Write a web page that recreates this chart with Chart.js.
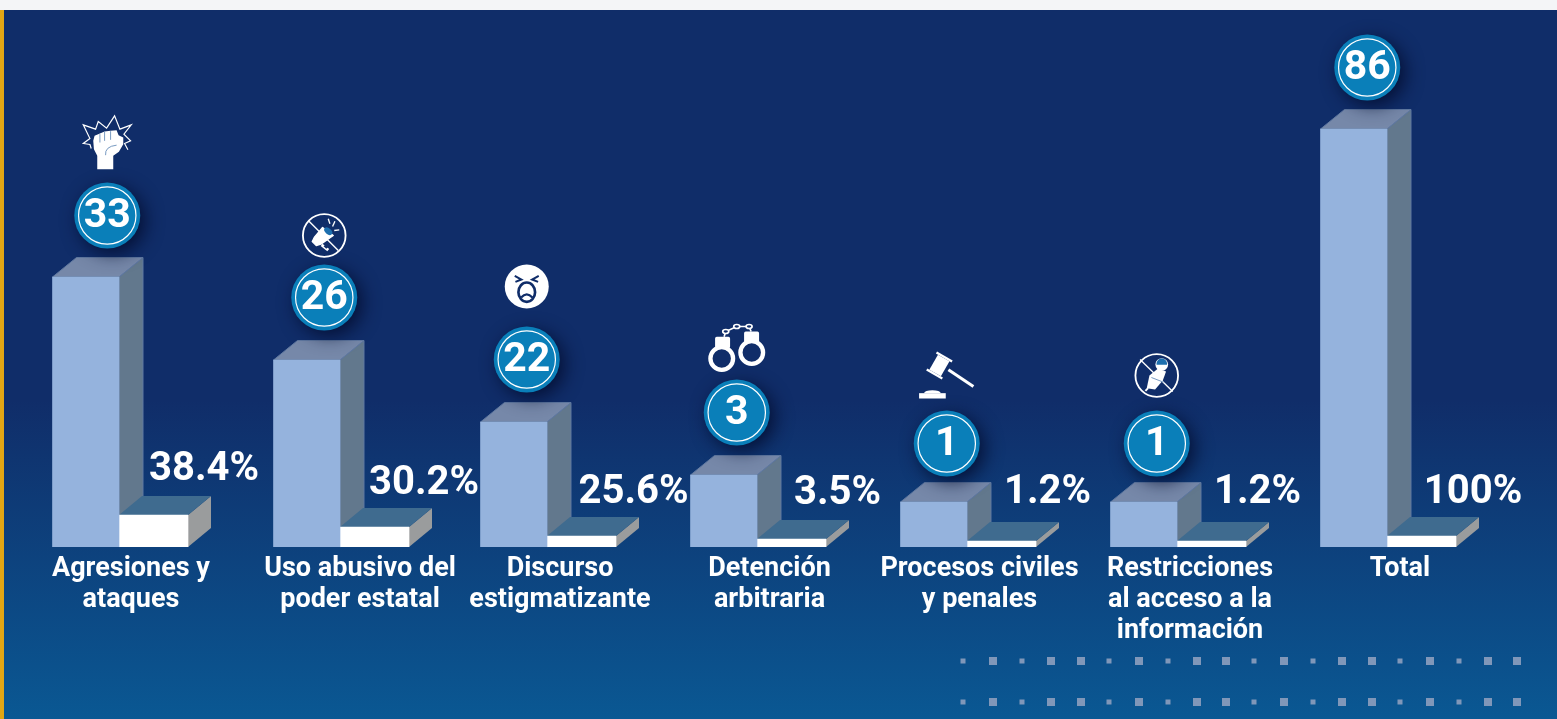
<!DOCTYPE html>
<html>
<head>
<meta charset="utf-8">
<title>Agresiones</title>
<script src="https://cdn.jsdelivr.net/npm/chart.js@4"></script>
<style>
  html, body { margin: 0; padding: 0; width: 1557px; height: 719px; overflow: hidden; }
  body { background: linear-gradient(180deg, #102d69 0px, #102d69 400px, #0a5893 719px); }
  #strip { position: absolute; left: 0; top: 0; width: 1557px; height: 10px; background: #f4f5f7; }
  #edge { position: absolute; left: 0; top: 10px; width: 4px; height: 709px; background: #e2a614; }
  #wrap { position: absolute; left: 0; top: 0; width: 1557px; height: 719px; }
</style>
</head>
<body>
<div id="strip"></div>
<div id="edge"></div>
<div id="wrap"><canvas id="myChart" width="1557" height="719"></canvas></div>
<script>
const categories = [
  ['Agresiones y', 'ataques'],
  ['Uso abusivo del', 'poder estatal'],
  ['Discurso', 'estigmatizante'],
  ['Detención', 'arbitraria'],
  ['Procesos civiles', 'y penales'],
  ['Restricciones', 'al acceso a la', 'información'],
  ['Total']
];
const countLabels = ['33', '26', '22', '3', '1', '1', '86'];
const percentLabels = ['38.4%', '30.2%', '25.6%', '3.5%', '1.2%', '1.2%', '100%'];

// the source graphic does not draw its bars in proportion to the printed numbers,
// so the lengths below are read off the bars themselves
const countBarLengths = [270, 187, 125, 72, 45, 45, 418];
const percentBarLengths = [32, 20, 11, 8, 6, 6, 11];

// layout tweaks, the columns and labels are not evenly spaced in the source
const columnNudge = [-8, 3, 0, 0, 0, 0, 0];
const tickNudge = [12, 20, 13, 12.5, 12.5, 13, 13];
const bubbleDx = [21.5, 17.5, 13, 13, 13, 13, 13.5];
const bubbleLift = [61.5, 62.5, 62.5, 62.5, 58.5, 58.5, 61.5];
const iconLift = [73, 62, 73, 65, 68, 68, 0];
const pctDx = [50.5, 49.5, 52, 46, 46, 46, 51.5];
const pctLift = [45, 43, 43, 45, 48, 48, 43];
const dotsBig = [993, 1051, 1081, 1139, 1197, 1226, 1284, 1342, 1372, 1430, 1488, 1517];
const dotsSmall = [963, 1022, 1109, 1168, 1254, 1313, 1400, 1459];
const dotRows = [661, 702];

const navy = '#102d69';

class ColumnScale extends Chart.CategoryScale {
  getPixelForValue(value) {
    const idx = typeof value === 'number' ? value : this.parse(value);
    return super.getPixelForValue(value) + (columnNudge[idx] || 0);
  }
  _computeLabelItems(chartArea) {
    const items = super._computeLabelItems(chartArea);
    items.forEach(function (item, i) { item.options.translation[0] += tickNudge[i]; });
    return items;
  }
}
ColumnScale.id = 'column';
ColumnScale.defaults = Chart.CategoryScale.defaults;
Chart.register(ColumnScale);

function poly(ctx, pts, close) {
  ctx.beginPath();
  pts.forEach(function (p, i) { if (i === 0) ctx.moveTo(p[0], p[1]); else ctx.lineTo(p[0], p[1]); });
  if (close) ctx.closePath();
}

function face(ctx, pts, fill, edge) {
  poly(ctx, pts, true);
  ctx.fillStyle = fill;
  ctx.fill();
  if (edge) {
    ctx.strokeStyle = edge;
    ctx.lineWidth = 1;
    ctx.stroke();
  }
}

// the fake 3d sides of a bar, sits behind the flat front drawn by chart.js
function drawSides(ctx, bar, dx, dy, topColor, sideColor, edge) {
  const l = bar.x - bar.width / 2, r = bar.x + bar.width / 2;
  face(ctx, [[r, bar.y], [r + dx, bar.y - dy], [r + dx, bar.base - dy], [r, bar.base]], sideColor, edge);
  face(ctx, [[l, bar.y], [l + dx, bar.y - dy], [r + dx, bar.y - dy], [r, bar.y]], topColor, edge);
}

function ring(ctx, r, lw) {
  ctx.beginPath();
  ctx.arc(0, 0, r, 0, Math.PI * 2);
  ctx.strokeStyle = '#fff';
  ctx.lineWidth = lw;
  ctx.stroke();
}

function line(ctx, pts, lw, color) {
  poly(ctx, pts, false);
  ctx.lineWidth = lw;
  ctx.strokeStyle = color || '#fff';
  ctx.stroke();
}

const icons = [
  function fist(ctx) {
    ctx.lineJoin = 'miter';
    line(ctx, [[-48, 18], [-52, 6], [-72, 3], [-52, -12], [-72, -53], [-35, -40], [-27, -63], [-2, -43], [22, -80], [38, -40], [72, -53], [50, -25], [70, -5], [52, 3], [62, 22]], 3.5);
    ctx.fillStyle = '#fff';
    poly(ctx, [[-42, -5], [-38, -20], [-22, -27], [-8, -33], [10, -35], [28, -37], [34, -22], [48, -15], [48, 5], [35, 28], [18, 40], [18, 80], [-30, 80], [-30, 40], [-40, 20]], true);
    ctx.fill();
    line(ctx, [[-22, -25], [-22, 0]], 2.5, '#5d86b5');
    line(ctx, [[-8, -32], [-8, -5]], 2.5, '#5d86b5');
    line(ctx, [[10, -34], [10, -8]], 2.5, '#5d86b5');
    ctx.beginPath();
    ctx.moveTo(-5, 38);
    ctx.quadraticCurveTo(-8, 12, 28, 8);
    ctx.strokeStyle = '#5d86b5';
    ctx.stroke();
  },
  function megaphone(ctx) {
    line(ctx, [[-48, -45], [42, 45]], 4);
    line(ctx, [[-8, 28], [12, 44]], 9);
    ctx.fillStyle = navy;
    poly(ctx, [[-2, 32], [8, 24], [14, 32], [6, 40]], true);
    ctx.fill();
    ctx.fillStyle = '#fff';
    poly(ctx, [[-36, 18], [-30, 6], [-5, -24], [27, 0], [-10, 26], [-24, 30]], true);
    ctx.lineJoin = 'round';
    ctx.lineWidth = 4;
    ctx.strokeStyle = '#fff';
    ctx.stroke();
    ctx.fill();
    ctx.fillStyle = '#1d6fae';
    ctx.beginPath();
    ctx.ellipse(12, -13, 9, 14, -0.85, 0, Math.PI * 2);
    ctx.fill();
    line(ctx, [[12, -50], [17, -35]], 4);
    line(ctx, [[32, -43], [25, -27]], 4);
    line(ctx, [[45, -17], [30, -15]], 4);
    ring(ctx, 64, 5.5);
  },
  function angry(ctx) {
    ctx.fillStyle = '#fff';
    ctx.beginPath();
    ctx.arc(0, 0, 66, 0, Math.PI * 2);
    ctx.fill();
    line(ctx, [[-36, -32], [-16, -21], [-34, -14]], 6, navy);
    line(ctx, [[36, -32], [16, -21], [34, -14]], 6, navy);
    ctx.beginPath();
    ctx.ellipse(0, 17, 25, 29, 0, 0, Math.PI * 2);
    ctx.strokeStyle = navy;
    ctx.lineWidth = 8;
    ctx.stroke();
    ctx.beginPath();
    ctx.moveTo(-17, 33);
    ctx.quadraticCurveTo(0, 14, 17, 33);
    ctx.lineWidth = 7;
    ctx.stroke();
  },
  function cuffs(ctx) {
    ctx.fillStyle = '#fff';
    [[-45, 33], [45, 15]].forEach(function (c) {
      ctx.save();
      ctx.translate(c[0], c[1]);
      ring(ctx, 34, 13);
      ctx.restore();
    });
    ctx.beginPath();
    ctx.roundRect(-65, -32, 45, 34, 5);
    ctx.roundRect(22, -48, 45, 34, 5);
    ctx.fill();
    line(ctx, [[-38, -32], [-33, -48], [0, -63], [37, -63], [43, -48]], 5);
    [[-33, -48], [0, -63], [37, -63]].forEach(function (c) {
      ctx.beginPath();
      ctx.ellipse(c[0], c[1], 9, 6, 0, 0, Math.PI * 2);
      ctx.fillStyle = navy;
      ctx.fill();
      ctx.strokeStyle = '#fff';
      ctx.lineWidth = 5;
      ctx.stroke();
    });
  },
  function gavel(ctx) {
    ctx.fillStyle = '#fff';
    line(ctx, [[5, -17], [80, 33]], 9);
    ctx.save();
    ctx.translate(-22, -30);
    ctx.rotate(0.52);
    ctx.fillRect(-20, -26, 40, 52);
    ctx.fillRect(-27, -33, 54, 7);
    ctx.fillRect(-27, 26, 54, 7);
    ctx.restore();
    ctx.fillRect(-83, 53, 80, 16);
    ctx.beginPath();
    ctx.ellipse(-43, 53, 25, 9, 0, Math.PI, 0);
    ctx.fill();
  },
  function mic(ctx) {
    line(ctx, [[-50, -48], [48, 48]], 4);
    ctx.fillStyle = '#fff';
    poly(ctx, [[3, -20], [28, -12], [18, 15], [-5, 42], [-30, 38], [-22, 0]], true);
    ctx.fill();
    line(ctx, [[-26, 38], [-34, 46]], 6);
    line(ctx, [[-16, 6], [20, 20]], 2.5, '#5d86b5');
    ctx.beginPath();
    ctx.arc(15, -33, 19, 0, Math.PI * 2);
    ctx.fillStyle = '#fff';
    ctx.fill();
    ctx.beginPath();
    ctx.arc(15, -35, 16, Math.PI * 0.95, Math.PI * 2.05);
    ctx.fillStyle = '#1d6fae';
    ctx.fill();
    ring(ctx, 64, 5.5);
  }
];

const threeD = {
  id: 'threeD',
  beforeDatasetsDraw(chart) {
    const ctx = chart.ctx;
    ctx.save();
    // decoration dots, bottom right
    ctx.fillStyle = '#8097b9';
    dotRows.forEach(function (y) {
      dotsBig.forEach(function (x) { ctx.fillRect(x - 4, y - 4, 8, 8); });
      dotsSmall.forEach(function (x) { ctx.fillRect(x - 2.5, y - 2.5, 5, 5); });
    });
    chart.getDatasetMeta(0).data.forEach(function (bar) {
      drawSides(ctx, bar, 24, 19.5, '#7688a9', '#62788d', '#5f78a0');
    });
    chart.getDatasetMeta(1).data.forEach(function (bar) {
      drawSides(ctx, bar, 23, 19, '#3f6b8f', '#9a9c9d', null);
    });
    ctx.restore();
  },
  afterDatasetsDraw(chart) {
    const ctx = chart.ctx;
    const blue = chart.getDatasetMeta(0).data;
    const white = chart.getDatasetMeta(1).data;
    ctx.save();
    ctx.textAlign = 'center';
    ctx.textBaseline = 'middle';
    blue.forEach(function (bar, i) {
      const cx = bar.x + bubbleDx[i];
      const cy = bar.y - bubbleLift[i];

      ctx.save();
      ctx.shadowColor = 'rgba(4, 12, 45, 0.85)';
      ctx.shadowBlur = 18;
      ctx.shadowOffsetX = 5;
      ctx.shadowOffsetY = 5;
      ctx.fillStyle = '#0a7fb9';
      ctx.beginPath();
      ctx.arc(cx, cy, 33, 0, Math.PI * 2);
      ctx.fill();
      ctx.restore();

      ctx.beginPath();
      ctx.arc(cx, cy, 28.7, 0, Math.PI * 2);
      ctx.strokeStyle = '#fff';
      ctx.lineWidth = 1.2;
      ctx.stroke();

      ctx.fillStyle = '#fff';
      ctx.font = 'bold 41px Roboto';
      ctx.fillText(countLabels[i], cx, cy + 1.5);

      if (icons[i]) {
        ctx.save();
        ctx.translate(cx, cy - iconLift[i]);
        ctx.scale(1 / 3, 1 / 3);
        icons[i](ctx);
        ctx.restore();
      }
    });
    white.forEach(function (bar, i) {
      ctx.fillStyle = '#fff';
      ctx.font = 'bold 40px Roboto';
      ctx.fillText(percentLabels[i], bar.x + pctDx[i], bar.y - pctLift[i]);
    });
    ctx.restore();
  }
};

new Chart(document.getElementById('myChart'), {
  type: 'bar',
  data: {
    labels: categories,
    datasets: [
      { label: 'Casos', data: countBarLengths, backgroundColor: '#95b3dd', borderWidth: 0, barThickness: 66.5 },
      { label: 'Porcentaje', data: percentBarLengths, backgroundColor: '#ffffff', borderWidth: 0, barThickness: 69 }
    ]
  },
  options: {
    responsive: false,
    animation: false,
    layout: { padding: { left: 22, right: 65, top: 10, bottom: 0 } },
    plugins: { legend: { display: false }, tooltip: { enabled: false } },
    scales: {
      x: {
        type: 'column',
        offset: true,
        grid: { display: false, offset: true },
        border: { display: false },
        afterFit: function (scale) { scale.height = 172; },
        ticks: {
          color: '#fff',
          font: { family: 'Roboto', size: 27, weight: 'bold', lineHeight: 1.148 },
          padding: -1,
          autoSkip: false,
          maxRotation: 0,
          minRotation: 0
        }
      },
      y: { display: false, min: 0, max: 537 }
    }
  },
  plugins: [threeD]
});
</script>
</body>
</html>
